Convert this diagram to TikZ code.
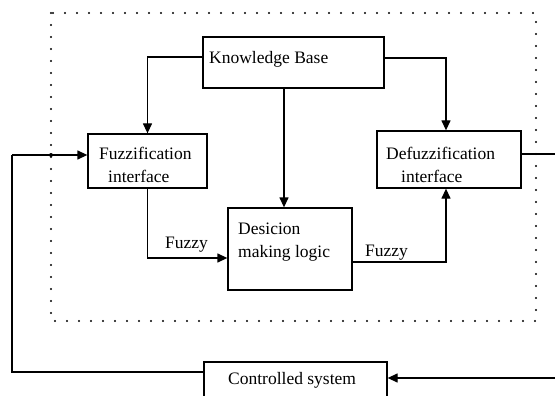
\documentclass[tikz,border=0pt]{standalone}
\usepackage{fontspec}
\setmainfont{Liberation Serif}
\usetikzlibrary{arrows.meta,calc}
\begin{document}
\begin{tikzpicture}[x=1pt,y=-1pt,
  box/.style={draw,line width=1.3pt,inner sep=0pt},
  txt/.style={font=\fontsize{17.5}{20}\selectfont,inner sep=0pt,anchor=west},
  wire/.style={line width=1.3pt},
  arr/.style={wire,-{Triangle[length=10pt,width=9pt]}},
  dotline/.style={line width=2.4pt,line cap=round,dash pattern=on 0pt off 12pt}]
\useasboundingbox (0,0) rectangle (555,396);
\fill[white] (0,0) rectangle (555,396);

% dotted boundary of the fuzzy controller
\draw[dotline] (51,13) rectangle (536,321);

% blocks
\node[box,minimum width=181pt,minimum height=51pt] (kb) at (293.5,62.5) {};
\node[box,minimum width=119pt,minimum height=54pt] (fz) at (147.5,161) {};
\node[box,minimum width=144pt,minimum height=57pt] (df) at (449,159.5) {};
\node[box,minimum width=124pt,minimum height=82pt] (dm) at (290,249) {};
\node[box,minimum width=183pt,minimum height=46pt] (cs) at (295.5,385) {};

% block texts
\node[txt] at (209,59) {Knowledge Base};
\node[txt] at (99,153) {Fuzzification};
\node[txt] at (108,176) {interface};
\node[txt] at (386,153) {Defuzzification};
\node[txt] at (401,176) {interface};
\node[txt] at (238,229) {Desicion};
\node[txt] at (238,253) {making logic};
\node[txt] at (228,380) {Controlled system};

% links inside the controller
\draw[arr] ([yshift=5.5pt]kb.west) -| (fz.north);
\draw[arr] ([yshift=4.5pt]kb.east) -| ([xshift=-3pt]df.north);
\draw[arr] ([xshift=-9.5pt]kb.south) -- ([xshift=-6pt]dm.north);
\draw[arr] (fz.south) |- ([yshift=-9pt]dm.west);
\draw[arr] ([yshift=-13pt]dm.east) -| ([xshift=-3pt]df.south);
\node[txt] at (165,245) {Fuzzy};
\node[txt] at (365,253) {Fuzzy};

% feedback loop through the plant
\coordinate (outR) at (560,154);
\coordinate (outRb) at (560,378);
\coordinate (fbL) at (12,372);
\coordinate (fbT) at (12,155);
\draw[wire] ([yshift=5.5pt]df.east) -- (outR) -- (outRb);
\draw[arr] (outRb) -- ([yshift=7pt]cs.east);
\draw[wire] ([yshift=13pt]cs.west) -- (fbL) -- (fbT);
\draw[arr] (fbT) -- ([yshift=6pt]fz.west);
\fill (51,155) circle (2pt);
\end{tikzpicture}
\end{document}
